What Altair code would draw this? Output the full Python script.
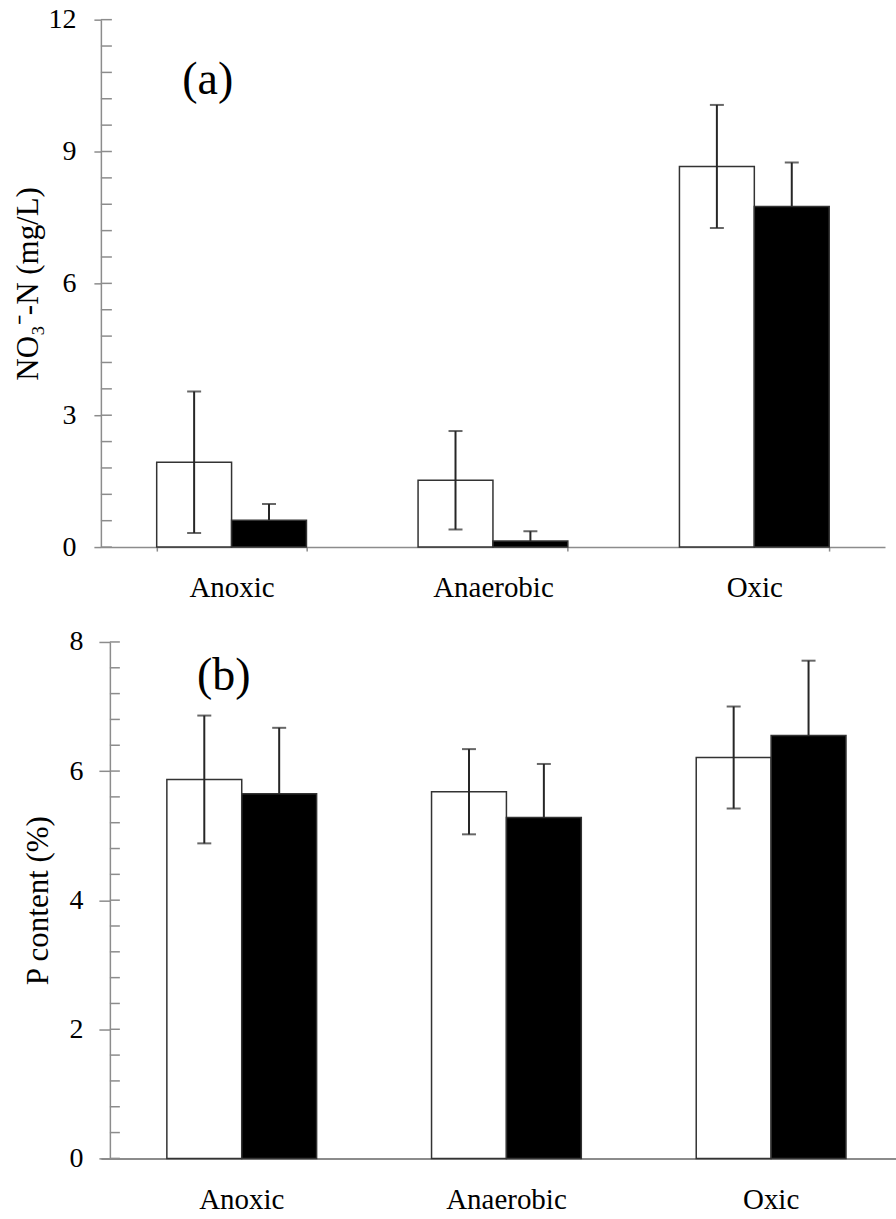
import altair as alt
import pandas as pd
import numpy as np

categories = ["Anoxic", "Anaerobic", "Oxic"]
series = ["Series 1", "Series 2"]

# Panel (a): NO3--N (mg/L)
no3_mean_1 = [1.93, 1.52, 8.66]
no3_err_1 = [1.61, 1.12, 1.40]
no3_mean_2 = [0.61, 0.14, 7.75]
no3_err_2 = [0.37, 0.22, 1.00]

# Panel (b): P content (%)
p_mean_1 = [5.87, 5.68, 6.21]
p_err_1 = [0.99, 0.66, 0.79]
p_mean_2 = [5.65, 5.28, 6.55]
p_err_2 = [1.02, 0.83, 1.16]

panel_labels = ["(a)", "(b)"]
y_titles = ["NO\u2083\u207b-N (mg/L)", "P content (%)"]
no3_ticks = [0, 3, 6, 9, 12]
p_ticks = [0, 2, 4, 6, 8]

FONT = "Liberation Serif"
GREY = "#8c8c8c"
INK = "#262626"


def make_df(m1, e1, m2, e2):
    rows = []
    for i, c in enumerate(categories):
        for s, m, e in ((series[0], m1[i], e1[i]), (series[1], m2[i], e2[i])):
            lo = max(0.0, m - e)
            # the lower whisker of a black bar is hidden inside the bar
            lo_draw = lo if s == series[0] else m
            rows.append({"cat": c, "ser": s, "val": m,
                         "lo": lo, "lo_draw": lo_draw, "hi": m + e})
    return pd.DataFrame(rows)


def panel(df, ymax, major, minor_step, title, label, width, height,
          ytick, ylabpad, ytitlepad, yoffset, inner_x0, inner_len,
          xscale, xaxis, lab_x, lab_y):
    yscale = alt.Scale(domain=[0, ymax], nice=False, zero=True)
    xenc = alt.X("cat:N", sort=categories, scale=xscale, axis=xaxis)
    xoff = alt.XOffset("ser:N", sort=series,
                       scale=alt.Scale(paddingInner=0, paddingOuter=0))

    yaxis = alt.Axis(values=major, tickSize=ytick, tickColor=GREY, tickWidth=1.5,
                     domainColor=GREY, domainWidth=1.5, grid=False,
                     labelFont=FONT, labelFontSize=28, labelColor="black",
                     labelPadding=ylabpad, title=title, titleFont=FONT,
                     titleFontSize=31, titleFontWeight="normal", titleColor="black",
                     titlePadding=ytitlepad, offset=yoffset)

    def Y(field):
        return alt.Y(field, scale=yscale, axis=yaxis, title=title)

    bars = alt.Chart(df).mark_bar(stroke="#333333", strokeWidth=1.5).encode(
        x=xenc, xOffset=xoff,
        y=Y("val:Q"),
        fill=alt.Fill("ser:N", scale=alt.Scale(domain=series, range=["white", "black"]),
                      legend=None),
    )

    ticks_df = pd.DataFrame({"t": np.round(np.arange(0, ymax + 1e-9, minor_step), 3)})
    inner = alt.Chart(ticks_df).mark_rule(color=GREY, strokeWidth=1.5).encode(
        y=Y("t:Q"),
        x=alt.value(inner_x0), x2=alt.value(inner_x0 + inner_len),
    )

    rules = alt.Chart(df).mark_rule(color=INK, strokeWidth=2).encode(
        x=xenc, xOffset=xoff,
        y=Y("lo_draw:Q"), y2="hi:Q",
    )
    cap_hi = alt.Chart(df).mark_tick(color=INK, thickness=2, size=14).encode(
        x=xenc, xOffset=xoff,
        y=Y("hi:Q"),
    )
    cap_lo = alt.Chart(df).mark_tick(color=INK, thickness=2, size=14).encode(
        x=xenc, xOffset=xoff,
        y=Y("lo:Q"),
    ).transform_filter(f"datum.ser == '{series[0]}'")

    lab = alt.Chart(pd.DataFrame({"label": [label]})).mark_text(
        font=FONT, fontSize=46, align="center", baseline="middle", color="black"
    ).encode(x=alt.value(lab_x), y=alt.value(lab_y), text="label:N")

    return alt.layer(bars, inner, rules, cap_hi, cap_lo, lab).properties(
        width=width, height=height)


df_a = make_df(no3_mean_1, no3_err_1, no3_mean_2, no3_err_2)
df_b = make_df(p_mean_1, p_err_1, p_mean_2, p_err_2)

xaxis_a = alt.Axis(title=None, labelAngle=0, labelFont=FONT, labelFontSize=29,
                   labelColor="black", labelPadding=22, tickBand="extent", tickSize=4,
                   tickColor=GREY, tickWidth=1.5, domainColor=GREY, domainWidth=1.5)
xaxis_b = alt.Axis(title=None, labelAngle=0, labelFont=FONT, labelFontSize=29,
                   labelColor="black", labelPadding=27, ticks=False,
                   domainColor=GREY, domainWidth=2)

chart_a = panel(df_a, 12, no3_ticks, 0.6, y_titles[0], panel_labels[0], 785, 528,
                7, 18, 3, 0, 0, 11,
                alt.Scale(paddingInner=0.427, paddingOuter=0.2135), xaxis_a, 107, 60)
chart_b = panel(df_b, 8, p_ticks, 0.4, y_titles[1], panel_labels[1], 796, 517,
                11, 16, 14, -9, 9, 10,
                alt.Scale(paddingInner=0.434, paddingOuter=0.219, align=0.569),
                xaxis_b, 123, 34)

chart = alt.vconcat(chart_a, chart_b, spacing=26).properties(
    padding={"left": 13, "top": 5, "right": 0, "bottom": 0}
).configure(font=FONT).configure_view(stroke=None)

chart.save("out.html", embed_options={"renderer": "svg", "actions": False})
